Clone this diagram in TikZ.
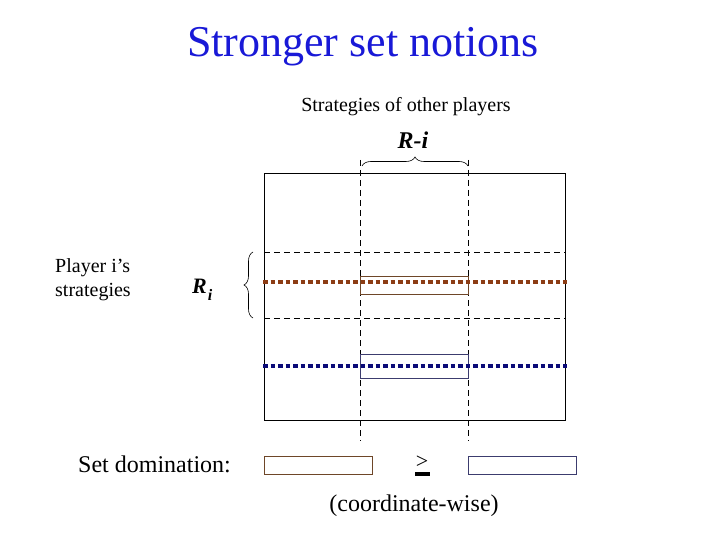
\documentclass[tikz,border=0pt]{standalone}
\usepackage{fontspec}
\setmainfont{Liberation Serif}
\usetikzlibrary{decorations.pathreplacing}
\definecolor{titleblue}{RGB}{25,25,215}
\definecolor{rbrown}{RGB}{140,60,20}
\definecolor{rnavy}{RGB}{10,10,120}
\definecolor{boxbrown}{RGB}{110,70,40}
\definecolor{boxnavy}{RGB}{60,60,110}
\tikzset{
  grid/.style={draw=black, line width=0.8pt, dash pattern=on 6pt off 4pt},
  dotline/.style={line width=3.5pt, dash pattern=on 4.5pt off 3pt},
  bracestyle/.style={draw, line width=0.6pt, decorate, decoration={brace, amplitude=9pt}},
  txt/.style={inner sep=0pt, anchor=center},
}
\begin{document}
\begin{tikzpicture}[x=1pt, y=-1pt]
\useasboundingbox (0,0) rectangle (720,540);
% title
\node[txt, text=titleblue, font=\fontsize{44}{48}\selectfont] (title) at (363,47) {Stronger set notions};
\node[txt, font=\fontsize{20}{22}\selectfont] (others) at (406,107) {Strategies of other players};
\node[txt, font=\fontsize{24}{26}\selectfont\bfseries\itshape] (rmi) at (413,140) {R-i};
% grid
\node[draw, line width=1pt, minimum width=301pt, minimum height=246pt, inner sep=0pt] (sq) at (414.5,297) {};
\coordinate (v1t) at (360,160); \coordinate (v1b) at (360,441);
\coordinate (v2t) at (468,160); \coordinate (v2b) at (468,441);
\draw[grid] (v1t) -- (v1b);
\draw[grid] (v2t) -- (v2b);
\coordinate (h1l) at (264,252); \coordinate (h1r) at (565,252);
\coordinate (h2l) at (264,318); \coordinate (h2r) at (565,318);
\draw[grid] (h1l) -- (h1r);
\draw[grid] (h2l) -- (h2r);
% boxes in grid
\node[draw=boxbrown, line width=0.8pt, minimum width=108pt, minimum height=18pt, inner sep=0pt] (bb) at (414,285) {};
\node[draw=boxnavy, line width=0.8pt, minimum width=108pt, minimum height=24pt, inner sep=0pt] (nb) at (414,366) {};
% dotted lines
\coordinate (d1l) at (263,282); \coordinate (d1r) at (567,282);
\coordinate (d2l) at (263,366); \coordinate (d2r) at (567,366);
\draw[dotline, draw=rbrown] (d1l) -- (d1r);
\draw[dotline, draw=rnavy] (d2l) -- (d2r);
% braces
\coordinate (bt1) at (362,166); \coordinate (bt2) at (468,166);
\draw[bracestyle] (bt1) -- (bt2);
\coordinate (bl1) at (253,318); \coordinate (bl2) at (253,252);
\draw[bracestyle] (bl1) -- (bl2);
% left labels
\node[anchor=west, inner sep=0pt, align=left, font=\fontsize{20}{24}\selectfont] (player) at (55,280) {Player i’s\\strategies};
\node[anchor=west, inner sep=0pt, font=\fontsize{22}{24}\selectfont\bfseries\itshape] (ri) at (192,290) {R\hspace{1pt}\raisebox{-7pt}{\fontsize{16}{18}\selectfont i}};
% bottom
\node[anchor=west, inner sep=0pt, font=\fontsize{24}{26}\selectfont] (setdom) at (78,464) {Set domination:};
\node[draw=boxbrown, line width=0.8pt, minimum width=108pt, minimum height=18pt, inner sep=0pt] (lb) at (318,465) {};
\node[txt, font=\fontsize{22}{24}\selectfont] (geq) at (422,462) {>};
\fill ([xshift=-7.5pt,yshift=-10pt]geq.center) rectangle ([xshift=7.5pt,yshift=-14pt]geq.center);
\node[draw=boxnavy, line width=0.8pt, minimum width=108pt, minimum height=18pt, inner sep=0pt] (rb) at (522,465) {};
\node[txt, font=\fontsize{24}{26}\selectfont] (coord) at (414,506) {(coordinate-wise)};
\end{tikzpicture}
\end{document}
